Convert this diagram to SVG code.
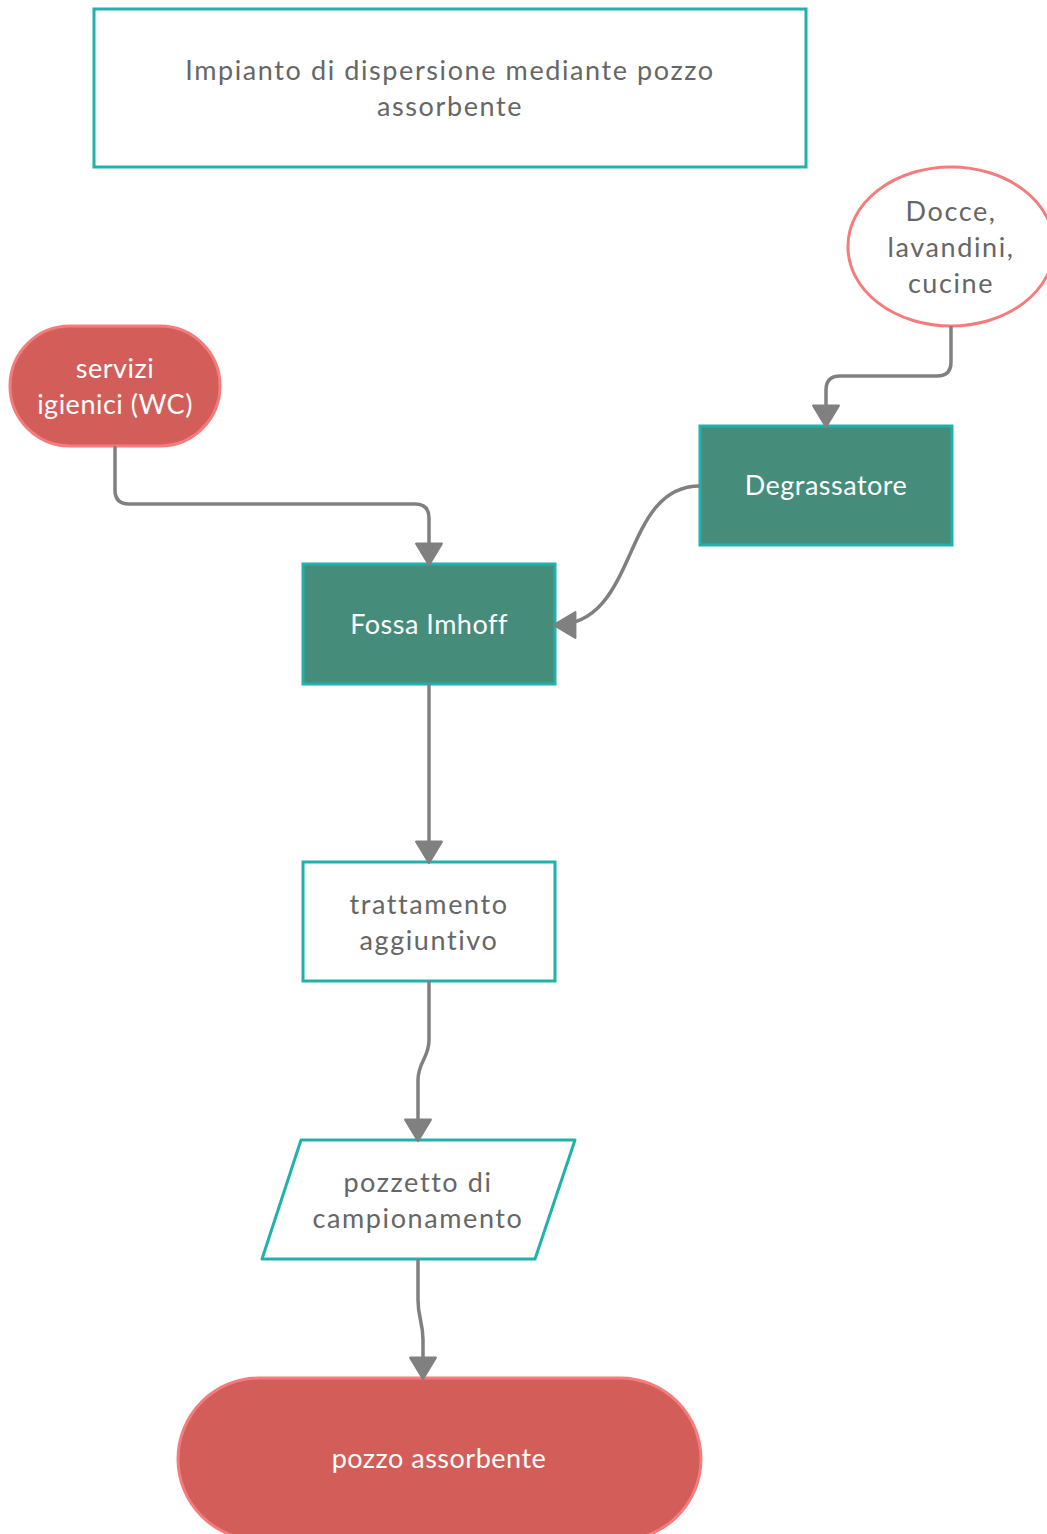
<svg xmlns="http://www.w3.org/2000/svg" width="1047" height="1534" viewBox="0 0 1047 1534">
<defs>
<marker id="arr" markerUnits="userSpaceOnUse" markerWidth="30" markerHeight="30" viewBox="-2 -14 24 28" refX="19" refY="0" orient="auto">
<path d="M0,-12 L20,0 L0,12 Z" fill="#808080" stroke="#808080" stroke-width="2" stroke-linejoin="round"/>
</marker>
</defs>
<style>
.t{font-family:Lato,"Open Sans","Liberation Sans",sans-serif;font-size:27px;text-anchor:middle}
.g{fill:#666666;letter-spacing:1.6px}
.w{fill:#ffffff;letter-spacing:0.5px}
.teal{stroke:#20B2AA;stroke-width:3}
.red{stroke:#F47C7C;stroke-width:3}
.c{fill:none;stroke:#808080;stroke-width:3.5}
</style>
<rect width="1047" height="1534" fill="#ffffff"/>
<g id="title">
<rect x="94" y="9" width="712" height="158" fill="#ffffff" class="teal"/>
<text class="t g" x="450" y="80">Impianto di dispersione mediante pozzo</text>
<text class="t g" x="450" y="116">assorbente</text>
</g>
<g id="docce">
<rect x="848" y="167" width="206" height="159" rx="103" ry="79" fill="#ffffff" class="red"/>
<text class="t g" x="951" y="221">Docce,</text>
<text class="t g" x="951" y="257">lavandini,</text>
<text class="t g" x="951" y="293">cucine</text>
</g>
<g id="servizi">
<rect x="10" y="326" width="210" height="120" rx="60" ry="60" fill="#D35E59" class="red"/>
<text class="t w" x="115" y="378">servizi</text>
<text class="t w" x="115" y="414">igienici (WC)</text>
</g>
<g id="degrassatore">
<rect x="700" y="426" width="252" height="119" fill="#458C7A" class="teal"/>
<text class="t w" x="826" y="495">Degrassatore</text>
</g>
<g id="fossa">
<rect x="303" y="564" width="252" height="120" fill="#458C7A" class="teal"/>
<text class="t w" x="429" y="634">Fossa Imhoff</text>
</g>
<g id="trattamento">
<rect x="303" y="862" width="252" height="119" fill="#ffffff" class="teal"/>
<text class="t g" x="429" y="914">trattamento</text>
<text class="t g" x="429" y="950">aggiuntivo</text>
</g>
<g id="pozzetto">
<polygon points="301,1140 575,1140 535,1259 262,1259" fill="#ffffff" class="teal" stroke-linejoin="round"/>
<text class="t g" x="418" y="1192">pozzetto di</text>
<text class="t g" x="418" y="1228">campionamento</text>
</g>
<g id="pozzo">
<rect x="178" y="1378" width="523" height="162" rx="81" ry="81" fill="#D35E59" class="red"/>
<text class="t w" x="439" y="1468">pozzo assorbente</text>
</g>
<g id="connectors">
<path class="c" d="M115,446 V490 Q115,504 129,504 H415 Q429,504 429,518 V564" marker-end="url(#arr)"/>
<path class="c" d="M951,326 V362 Q951,376 937,376 H840 Q826,376 826,390 V426" marker-end="url(#arr)"/>
<path class="c" d="M700,486 C620,486 640,625 555,625" marker-end="url(#arr)"/>
<path class="c" d="M429,684 V862" marker-end="url(#arr)"/>
<path class="c" d="M429,981 V1040 C429,1058 418,1062 418,1080 V1140" marker-end="url(#arr)"/>
<path class="c" d="M418,1259 V1300 C418,1318 423,1322 423,1340 V1378" marker-end="url(#arr)"/>
</g>
</svg>
